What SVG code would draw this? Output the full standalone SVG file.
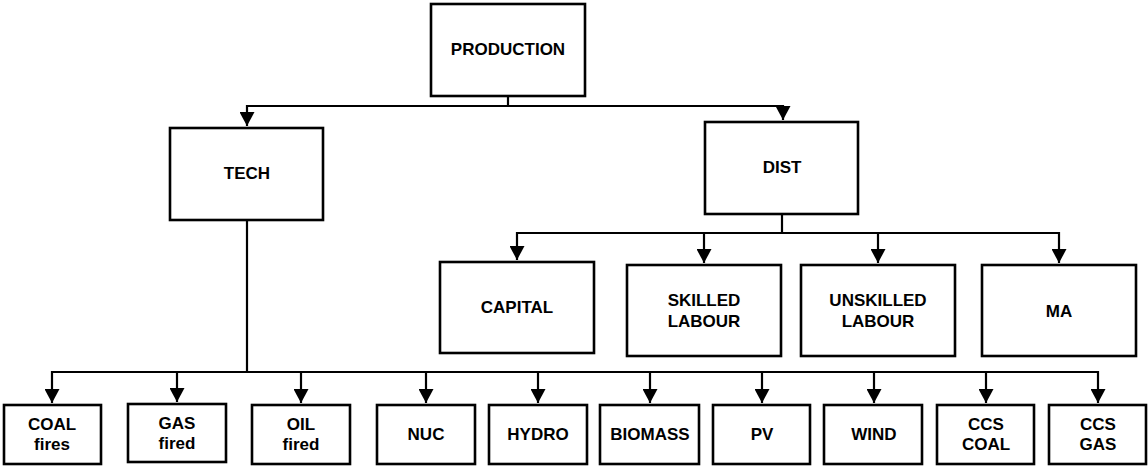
<svg xmlns="http://www.w3.org/2000/svg" width="1148" height="467" viewBox="0 0 1148 467">
  <style>
    .box { fill: #fff; stroke: #000; stroke-width: 2.6; }
    .lbl { font-family: "Liberation Sans", Arial, sans-serif; font-weight: bold; font-size: 17px; fill: #000; text-anchor: middle; }
    .wire { fill: none; stroke: #000; stroke-width: 2.2; }
  </style>
  <defs>
    <marker id="arrow" markerUnits="userSpaceOnUse" markerWidth="15" markerHeight="15" refX="14" refY="7.5" orient="auto">
      <path d="M0,0 L14,7.5 L0,15 z" fill="#000"/>
    </marker>
  </defs>

  <!-- connectors -->
  <g id="connectors" class="wire">
    <path d="M508,96 V106 H247 V126" marker-end="url(#arrow)"/>
    <path d="M508,106 H783 V120" marker-end="url(#arrow)"/>
    <path d="M782,215 V233 H517 V260" marker-end="url(#arrow)"/>
    <path d="M704,233 V263" marker-end="url(#arrow)"/>
    <path d="M782,233 H878 V263" marker-end="url(#arrow)"/>
    <path d="M878,233 H1059 V263" marker-end="url(#arrow)"/>
    <path d="M247,221 V372 H52 V403" marker-end="url(#arrow)"/>
    <path d="M177,372 V402" marker-end="url(#arrow)"/>
    <path d="M301,372 V403" marker-end="url(#arrow)"/>
    <path d="M247,372 H1098 V403" marker-end="url(#arrow)"/>
    <path d="M426,372 V403" marker-end="url(#arrow)"/>
    <path d="M538,372 V403" marker-end="url(#arrow)"/>
    <path d="M650,372 V403" marker-end="url(#arrow)"/>
    <path d="M762,372 V403" marker-end="url(#arrow)"/>
    <path d="M874,372 V403" marker-end="url(#arrow)"/>
    <path d="M986,372 V403" marker-end="url(#arrow)"/>
  </g>

  <!-- top level -->
  <g id="production">
    <rect class="box" x="431" y="4" width="154" height="92"/>
    <text class="lbl" x="508" y="55">PRODUCTION</text>
  </g>
  <g id="tech">
    <rect class="box" x="170" y="128" width="153" height="92"/>
    <text class="lbl" x="247" y="179">TECH</text>
  </g>
  <g id="dist">
    <rect class="box" x="705" y="122" width="153" height="92"/>
    <text class="lbl" x="782" y="173">DIST</text>
  </g>

  <!-- distribution inputs -->
  <g id="capital">
    <rect class="box" x="440" y="262" width="154" height="91"/>
    <text class="lbl" x="517" y="313">CAPITAL</text>
  </g>
  <g id="skilled-labour">
    <rect class="box" x="627" y="265" width="154" height="91"/>
    <text class="lbl" x="704" y="306">SKILLED</text>
    <text class="lbl" x="704" y="327">LABOUR</text>
  </g>
  <g id="unskilled-labour">
    <rect class="box" x="801" y="265" width="154" height="91"/>
    <text class="lbl" x="878" y="306">UNSKILLED</text>
    <text class="lbl" x="878" y="327">LABOUR</text>
  </g>
  <g id="ma">
    <rect class="box" x="982" y="265" width="154" height="91"/>
    <text class="lbl" x="1059" y="317">MA</text>
  </g>

  <!-- technologies -->
  <g id="coal-fires">
    <rect class="box" x="4" y="405" width="97" height="59"/>
    <text class="lbl" x="52" y="430">COAL</text>
    <text class="lbl" x="52" y="450">fires</text>
  </g>
  <g id="gas-fired">
    <rect class="box" x="128" y="404" width="98" height="58"/>
    <text class="lbl" x="177" y="429">GAS</text>
    <text class="lbl" x="177" y="449">fired</text>
  </g>
  <g id="oil-fired">
    <rect class="box" x="252" y="405" width="98" height="59"/>
    <text class="lbl" x="301" y="430">OIL</text>
    <text class="lbl" x="301" y="450">fired</text>
  </g>
  <g id="nuc">
    <rect class="box" x="377" y="405" width="98" height="59"/>
    <text class="lbl" x="426" y="440">NUC</text>
  </g>
  <g id="hydro">
    <rect class="box" x="489" y="405" width="98" height="59"/>
    <text class="lbl" x="538" y="440">HYDRO</text>
  </g>
  <g id="biomass">
    <rect class="box" x="600" y="405" width="99" height="59"/>
    <text class="lbl" x="650" y="440">BIOMASS</text>
  </g>
  <g id="pv">
    <rect class="box" x="713" y="405" width="97" height="59"/>
    <text class="lbl" x="762" y="440">PV</text>
  </g>
  <g id="wind">
    <rect class="box" x="824" y="405" width="98" height="59"/>
    <text class="lbl" x="874" y="440">WIND</text>
  </g>
  <g id="ccs-coal">
    <rect class="box" x="937" y="405" width="97" height="59"/>
    <text class="lbl" x="986" y="430">CCS</text>
    <text class="lbl" x="986" y="450">COAL</text>
  </g>
  <g id="ccs-gas">
    <rect class="box" x="1049" y="405" width="97" height="59"/>
    <text class="lbl" x="1098" y="430">CCS</text>
    <text class="lbl" x="1098" y="450">GAS</text>
  </g>
</svg>
